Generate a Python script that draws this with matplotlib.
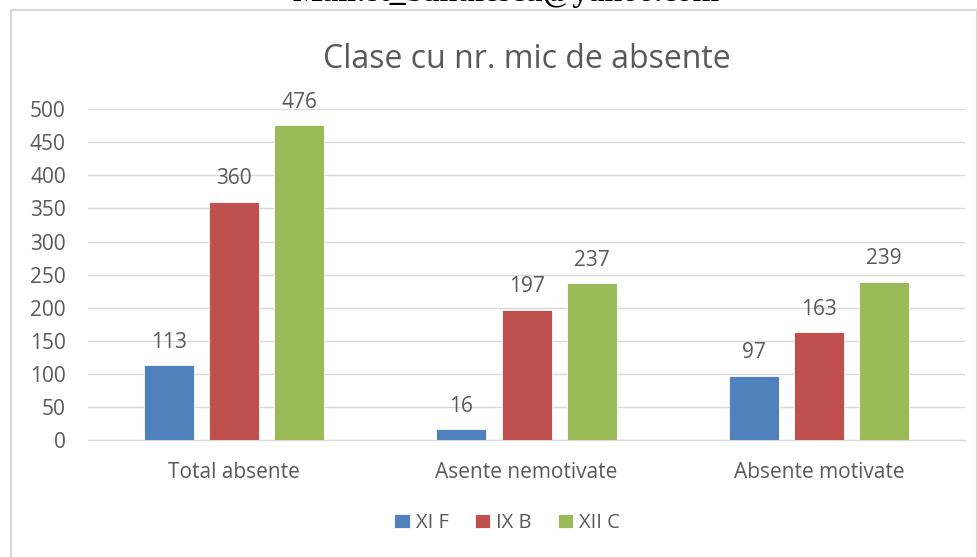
import numpy as np
import matplotlib.pyplot as plt
from matplotlib.patches import Rectangle

# data
categories = ["Total absente", "Asente nemotivate", "Absente motivate"]
series_names = ["XI F", "IX B", "XII C"]
xi_f = [113, 16, 97]
ix_b = [360, 197, 163]
xii_c = [476, 237, 239]
colors = ["#4F81BD", "#C0504D", "#9BBB59"]
yticks = list(range(0, 501, 50))

TEXT = "#595959"
GRID = "#D9D9D9"
plt.rcParams['font.family'] = ['Open Sans', 'DejaVu Sans']

fig = plt.figure(figsize=(9.78, 5.57), dpi=100)
ax = fig.add_axes([0.09, 0.21, 0.897, 0.594])

# outer chart frame and cut-off header text
fig.patches.append(Rectangle((11 / 978, -0.01), 966 / 978, 1 - 10 / 557 + 0.01,
                             transform=fig.transFigure, fill=False,
                             edgecolor=GRID, linewidth=1.5))
fig.text(506 / 978, 1 - 1 / 557, "Mail:st_banulescu@yahoo.com", ha="center", va="baseline",
         family="Liberation Serif", weight="bold", fontsize=23, color="black")

x = np.arange(len(categories))
width = 0.171
step = 0.223
for i, (vals, name, c) in enumerate(zip([xi_f, ix_b, xii_c], series_names, colors)):
    bars = ax.bar(x + (i - 1) * step, vals, width, color=c, label=name, zorder=3,
                  edgecolor="white", linewidth=0.6)
    for b, v in zip(bars, vals):
        ax.annotate(str(v), (b.get_x() + b.get_width() / 2, v), xytext=(0, 9),
                    textcoords="offset points", ha="center", va="bottom",
                    fontsize=15, color=TEXT)

ax.set_xlim(-0.5, 2.5)
ax.set_ylim(0, 500)
ax.set_yticks(yticks)
ax.set_xticks(x)
ax.set_xticklabels(categories)
ax.tick_params(axis="both", length=0, labelsize=15, labelcolor=TEXT)
ax.tick_params(axis="y", pad=16)
ax.tick_params(axis="x", pad=16)
ax.grid(axis="y", color=GRID, linewidth=1, zorder=0)
for s in ["top", "right", "left"]:
    ax.spines[s].set_visible(False)
ax.spines["bottom"].set_color(GRID)

ax.set_title("Clase cu nr. mic de absente", fontsize=23, color=TEXT, pad=30)

fig.legend(*ax.get_legend_handles_labels(), loc="center", bbox_to_anchor=(507 / 978, 1 - 523 / 557),
           ncol=3, frameon=False, fontsize=14.5, labelcolor=TEXT,
           handlelength=0.75, handleheight=0.75, handletextpad=0.3, columnspacing=1.3)

fig.savefig("out.png", dpi=100)
